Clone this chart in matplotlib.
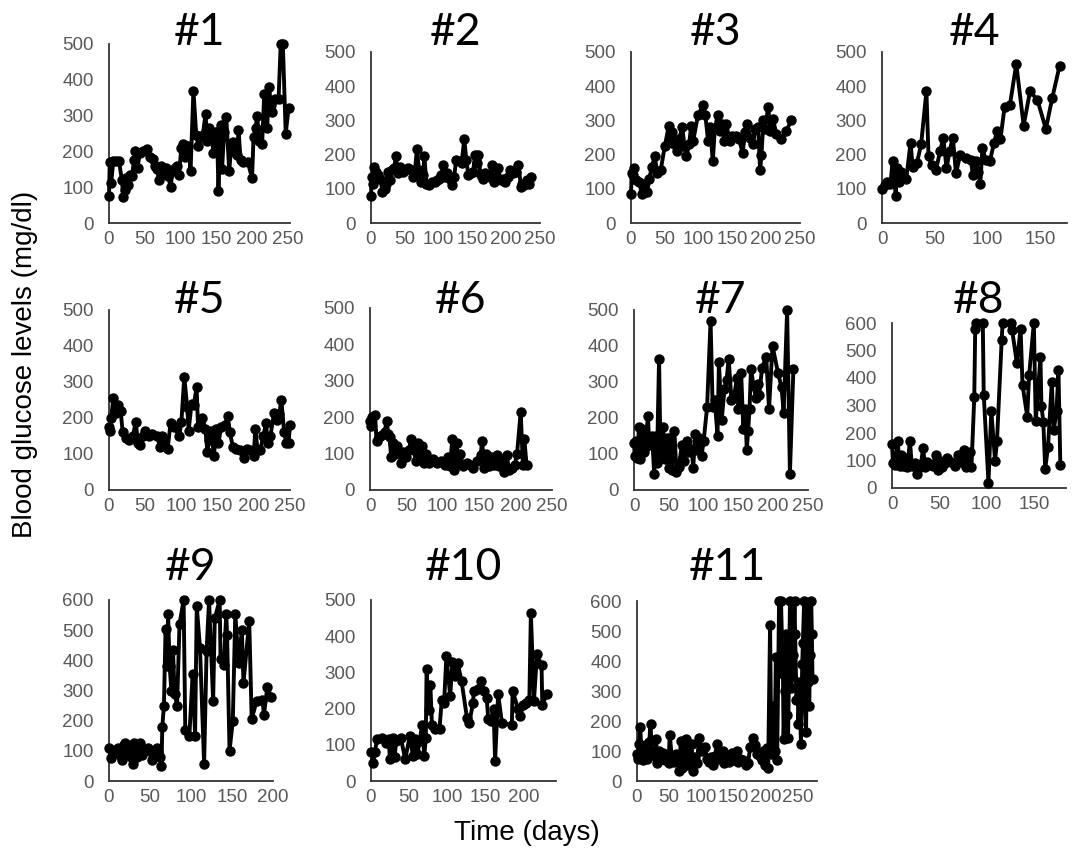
import matplotlib.pyplot as plt

# blood glucose (mg/dl) vs time (days) for each animal
titles = ['#1', '#2', '#3', '#4', '#5', '#6', '#7', '#8', '#9', '#10', '#11']

days_1 = [0, 1, 3, 6, 10, 14, 18, 20, 22, 24,
          26, 29, 32, 35, 37, 40, 43, 47, 53, 58,
          61, 64, 67, 70, 73, 75, 78, 80, 83, 86,
          89, 92, 95, 98, 101, 103, 106, 108, 111, 114,
          118, 122, 125, 128, 131, 135, 137, 140, 143, 146,
          149, 151, 153, 156, 158, 161, 164, 168, 171, 174,
          177, 179, 181, 184, 188, 194, 200, 202, 205, 207,
          210, 214, 217, 221, 224, 226, 228, 232, 237, 240,
          243, 247, 251]
glucose_1 = [75, 170, 112, 172, 172, 172, 120, 72, 92, 125,
             105, 135, 130, 175, 200, 155, 195, 200, 208, 185,
             180, 160, 150, 120, 160, 150, 140, 155, 130, 100,
             145, 155, 160, 135, 210, 220, 185, 215, 215, 145,
             370, 245, 215, 240, 245, 305, 230, 265, 250, 195,
             255, 255, 90, 275, 150, 255, 295, 145, 215, 225,
             195, 190, 260, 175, 170, 170, 125, 240, 265, 300,
             230, 220, 360, 265, 380, 330, 310, 345, 345, 500,
             500, 250, 320]

days_2 = [0, 1, 3, 5, 8, 11, 14, 17, 20, 22,
          25, 28, 31, 34, 37, 40, 43, 47, 51, 55,
          59, 62, 65, 68, 71, 74, 77, 79, 82, 86,
          90, 94, 98, 101, 104, 107, 110, 113, 117, 120,
          123, 126, 130, 134, 138, 141, 144, 148, 151, 154,
          157, 159, 162, 165, 169, 173, 176, 179, 182, 185,
          188, 192, 195, 198, 202, 206, 210, 214, 218, 222,
          224, 227, 231, 234, 237]
glucose_2 = [80, 135, 115, 165, 150, 140, 130, 90, 100, 115,
             150, 125, 155, 160, 195, 145, 165, 150, 155, 160,
             155, 135, 155, 215, 155, 120, 140, 195, 115, 110,
             120, 120, 125, 130, 140, 170, 135, 145, 130, 110,
             135, 185, 180, 175, 245, 185, 140, 145, 150, 200,
             175, 200, 140, 130, 145, 140, 135, 170, 120, 135,
             160, 125, 130, 120, 135, 155, 145, 150, 170, 105,
             115, 110, 125, 115, 135]

days_3 = [0, 1, 3, 5, 8, 12, 16, 19, 21, 24,
          27, 31, 35, 39, 44, 50, 56, 58, 61, 64,
          68, 71, 76, 79, 82, 86, 89, 92, 99, 107,
          110, 114, 117, 121, 124, 128, 131, 135, 138, 141,
          146, 150, 156, 160, 165, 169, 172, 176, 180, 184,
          188, 191, 193, 196, 198, 203, 206, 210, 215, 222,
          230, 237]
glucose_3 = [85, 145, 140, 160, 125, 120, 85, 115, 95, 90,
             130, 165, 195, 145, 155, 225, 285, 240, 265, 230,
             210, 245, 280, 225, 195, 230, 285, 240, 315, 345,
             315, 240, 280, 180, 275, 315, 270, 290, 240, 290,
             240, 255, 255, 245, 205, 265, 290, 250, 230, 275,
             280, 155, 200, 300, 275, 340, 270, 305, 260, 245,
             270, 300]

days_4 = [0, 3, 5, 8, 10, 13, 14, 16, 18, 23,
          27, 29, 33, 37, 42, 44, 47, 51, 55, 58,
          61, 64, 67, 70, 74, 79, 84, 86, 89, 91,
          93, 95, 98, 102, 106, 109, 112, 116, 121, 127,
          134, 140, 147, 155, 161, 168]
glucose_4 = [100, 110, 120, 115, 180, 80, 160, 120, 150, 130,
             235, 165, 175, 230, 385, 195, 170, 155, 210, 250,
             160, 210, 250, 145, 200, 190, 185, 140, 180, 150,
             115, 220, 185, 180, 235, 270, 245, 340, 345, 465,
             285, 385, 360, 275, 365, 460]

days_5 = [0, 1, 3, 6, 10, 13, 16, 19, 23, 28,
          33, 37, 40, 43, 47, 50, 55, 60, 66, 71,
          73, 76, 81, 85, 90, 97, 100, 104, 108, 110,
          114, 117, 121, 123, 129, 133, 136, 138, 141, 145,
          148, 151, 155, 160, 164, 167, 171, 176, 181, 186,
          190, 195, 200, 202, 205, 209, 213, 217, 219, 223,
          228, 232, 235, 238, 242, 245, 248, 250]
glucose_5 = [175, 165, 200, 255, 215, 235, 220, 160, 145, 140,
             150, 190, 130, 125, 150, 165, 150, 155, 150, 120,
             150, 130, 115, 185, 175, 150, 190, 315, 230, 165,
             240, 235, 285, 175, 200, 170, 105, 140, 165, 95,
             170, 130, 175, 180, 205, 160, 120, 115, 110, 90,
             115, 110, 95, 170, 115, 110, 150, 185, 130, 150,
             215, 195, 210, 250, 160, 130, 130, 180]

days_6 = [0, 1, 3, 7, 9, 12, 16, 20, 23, 25,
          27, 29, 31, 34, 37, 40, 43, 46, 49, 53,
          57, 60, 63, 66, 69, 71, 74, 77, 81, 86,
          92, 98, 103, 107, 110, 113, 116, 119, 121, 124,
          128, 133, 138, 142, 147, 152, 154, 157, 160, 163,
          166, 170, 174, 177, 181, 184, 188, 191, 195, 199,
          202, 207, 210, 212, 215]
glucose_6 = [190, 175, 200, 205, 135, 145, 150, 160, 190, 155,
             145, 90, 130, 100, 120, 105, 75, 105, 90, 110,
             140, 110, 80, 130, 95, 120, 75, 100, 75, 85,
             75, 80, 70, 90, 65, 140, 55, 130, 75, 100,
             65, 75, 70, 60, 80, 95, 135, 60, 100, 65,
             90, 70, 95, 65, 85, 50, 95, 55, 60, 70,
             100, 215, 70, 140, 70]

days_7 = [0, 1, 3, 5, 7, 9, 12, 14, 16, 20,
          22, 26, 29, 31, 33, 36, 38, 40, 42, 44,
          47, 50, 52, 54, 58, 61, 64, 69, 72, 76,
          79, 83, 85, 88, 90, 93, 97, 100, 105, 110,
          113, 116, 120, 122, 126, 130, 133, 136, 140, 144,
          148, 150, 154, 157, 160, 162, 164, 166, 168, 172,
          175, 178, 180, 184, 190, 194, 199, 207, 212, 215,
          220, 224, 229]
glucose_7 = [130, 95, 135, 90, 175, 85, 170, 105, 120, 205,
             125, 150, 45, 150, 75, 365, 110, 95, 175, 85,
             145, 60, 145, 55, 165, 50, 65, 125, 80, 135,
             105, 115, 60, 155, 110, 145, 95, 135, 230, 470,
             230, 250, 150, 355, 195, 280, 305, 365, 250, 265,
             310, 225, 325, 170, 225, 110, 165, 225, 335, 290,
             255, 295, 265, 340, 370, 225, 400, 325, 285, 215,
             500, 45, 335]

days_8 = [0, 1, 3, 6, 8, 10, 12, 14, 16, 19,
          21, 24, 26, 28, 30, 33, 35, 37, 40, 43,
          46, 49, 51, 53, 56, 58, 62, 67, 70, 72,
          76, 78, 82, 84, 87, 88, 89, 96, 97, 102,
          105, 109, 111, 116, 117, 126, 127, 132, 136, 138,
          143, 145, 150, 152, 157, 158, 160, 162, 165, 169,
          171, 174, 176, 178]
glucose_8 = [160, 90, 85, 170, 80, 120, 80, 110, 75, 170,
             80, 90, 50, 85, 75, 145, 75, 95, 85, 80,
             120, 65, 100, 75, 90, 110, 95, 80, 120, 95,
             140, 75, 130, 75, 330, 580, 600, 600, 340, 20,
             280, 100, 170, 540, 600, 600, 575, 455, 580, 375,
             260, 410, 600, 245, 475, 300, 240, 70, 150, 385,
             210, 280, 430, 85]

days_9 = [0, 2, 5, 8, 11, 13, 16, 18, 20, 23,
          25, 27, 29, 31, 34, 36, 38, 40, 43, 47,
          52, 55, 58, 60, 62, 64, 65, 67, 69, 71,
          72, 74, 76, 78, 80, 83, 86, 91, 93, 98,
          102, 105, 107, 111, 116, 119, 122, 127, 129, 135,
          136, 140, 143, 144, 147, 151, 154, 158, 162, 164,
          171, 174, 180, 187, 189, 193, 198]
glucose_9 = [110, 75, 100, 95, 110, 85, 70, 120, 125, 90,
             105, 80, 55, 125, 80, 110, 125, 85, 100, 110,
             70, 95, 110, 95, 80, 50, 180, 250, 505, 380,
             555, 380, 300, 435, 290, 250, 520, 600, 170, 150,
             355, 150, 580, 440, 55, 430, 600, 265, 540, 600,
             405, 385, 555, 485, 100, 200, 555, 390, 500, 325,
             530, 205, 265, 270, 220, 310, 280]

days_10 = [0, 3, 5, 8, 14, 20, 23, 25, 29, 31,
           33, 39, 45, 51, 55, 58, 61, 64, 67, 70,
           72, 73, 76, 78, 80, 84, 90, 93, 96, 99,
           104, 107, 110, 114, 119, 126, 129, 134, 135, 140,
           145, 148, 152, 154, 157, 161, 163, 167, 172, 185,
           186, 193, 196, 200, 203, 208, 210, 214, 218, 224,
           225, 231]
glucose_10 = [80, 50, 80, 115, 120, 105, 115, 60, 120, 65,
              110, 120, 60, 125, 70, 115, 75, 110, 155, 70,
              120, 310, 195, 265, 155, 145, 145, 225, 215, 345,
              235, 330, 290, 325, 275, 175, 160, 215, 250, 255,
              275, 250, 230, 170, 165, 200, 55, 240, 160, 155,
              250, 200, 180, 210, 215, 225, 465, 220, 350, 320,
              210, 240]

days_11 = [0, 2, 3, 5, 7, 10, 13, 16, 19, 21,
           23, 26, 28, 30, 31, 34, 37, 40, 43, 46,
           49, 51, 54, 57, 60, 63, 66, 68, 70, 73,
           76, 78, 80, 82, 85, 87, 90, 93, 97, 100,
           103, 106, 109, 112, 115, 118, 121, 125, 128, 133,
           136, 140, 143, 147, 150, 155, 157, 160, 165, 170,
           173, 176, 180, 183, 186, 191, 194, 196, 199, 202,
           204, 207, 209, 210, 212, 214, 216, 218, 221, 223,
           224, 226, 227, 228, 230, 232, 234, 235, 237, 238,
           239, 241, 243, 245, 246, 248, 250, 251, 253, 255,
           257, 258, 260, 261, 263, 265, 266, 268, 269, 271,
           272, 273]
glucose_11 = [90, 75, 125, 180, 95, 70, 120, 75, 130, 190,
              100, 95, 85, 140, 60, 100, 80, 95, 70, 80,
              60, 155, 80, 65, 90, 75, 35, 135, 45, 80,
              140, 55, 125, 70, 125, 35, 80, 60, 145, 100,
              110, 115, 75, 65, 80, 55, 85, 125, 75, 100,
              60, 80, 65, 95, 70, 100, 65, 75, 70, 55,
              60, 115, 145, 120, 90, 85, 70, 100, 55, 110,
              45, 520, 90, 120, 250, 100, 415, 70, 600, 360,
              600, 430, 370, 140, 300, 490, 220, 145, 450, 600,
              310, 350, 420, 600, 490, 270, 330, 190, 300, 125,
              390, 460, 600, 280, 165, 595, 330, 250, 420, 600,
              490, 340]

all_days = [days_1, days_2, days_3, days_4, days_5, days_6,
            days_7, days_8, days_9, days_10, days_11]
all_glucose = [glucose_1, glucose_2, glucose_3, glucose_4, glucose_5, glucose_6,
               glucose_7, glucose_8, glucose_9, glucose_10, glucose_11]
y_max = [500, 500, 500, 500, 500, 500, 500, 600, 600, 500, 600]
x_max = [253, 250, 250, 175, 250, 250, 250, 184, 200, 243, 280]

# panel boxes in pixels: left, top, right, bottom
W, H = 1073, 850
boxes = [(109, 44, 290, 223), (371, 52, 540, 223), (631, 52, 800, 223), (882, 52, 1067, 223),
         (109, 310, 290, 490), (370, 308, 552, 490), (634, 310, 808, 490), (892, 323, 1066, 488),
         (109, 600, 273, 781), (371, 600, 556, 781), (637, 601, 817, 781)]
title_base = [45, 45, 45, 45, 313, 313, 313, 313, 580, 580, 580]

fig = plt.figure(figsize=(W / 100, H / 100), dpi=100)

for i in range(11):
    l, t, r, b = boxes[i]
    ax = fig.add_axes([l / W, 1 - b / H, (r - l) / W, (b - t) / H])
    ax.plot(all_days[i], all_glucose[i], color='black', lw=2.8,
            marker='o', ms=6.5, mec='black', mfc='black', clip_on=False, zorder=3)
    ax.set_xlim(0, x_max[i])
    ax.set_ylim(0, y_max[i])
    ax.set_xticks(range(0, x_max[i] + 1, 50))
    ax.set_yticks(range(0, y_max[i] + 1, 100))
    for s in ['top', 'right']:
        ax.spines[s].set_visible(False)
    for s in ['left', 'bottom']:
        ax.spines[s].set_color('#333333')
        ax.spines[s].set_linewidth(1.3)
    ax.tick_params(length=0, labelsize=13.5, labelcolor='#595959')
    ax.tick_params(axis='y', pad=11)
    ax.tick_params(axis='x', pad=6)
    for lab in ax.get_xticklabels() + ax.get_yticklabels():
        lab.set_family('Liberation Sans')
    fig.text((l + r) / 2 / W, 1 - title_base[i] / H, titles[i], ha='center', va='baseline',
             fontsize=32, family='Lato', color='black')

fig.text(25 / W, 1 - 364 / H, 'Blood glucose levels (mg/dl)', rotation=90,
         ha='center', va='center', fontsize=20, family='Liberation Sans')
fig.text(527 / W, 1 - 833 / H, 'Time (days)', ha='center', va='center',
         fontsize=20, family='Liberation Sans')

fig.savefig('out.png', dpi=100)
